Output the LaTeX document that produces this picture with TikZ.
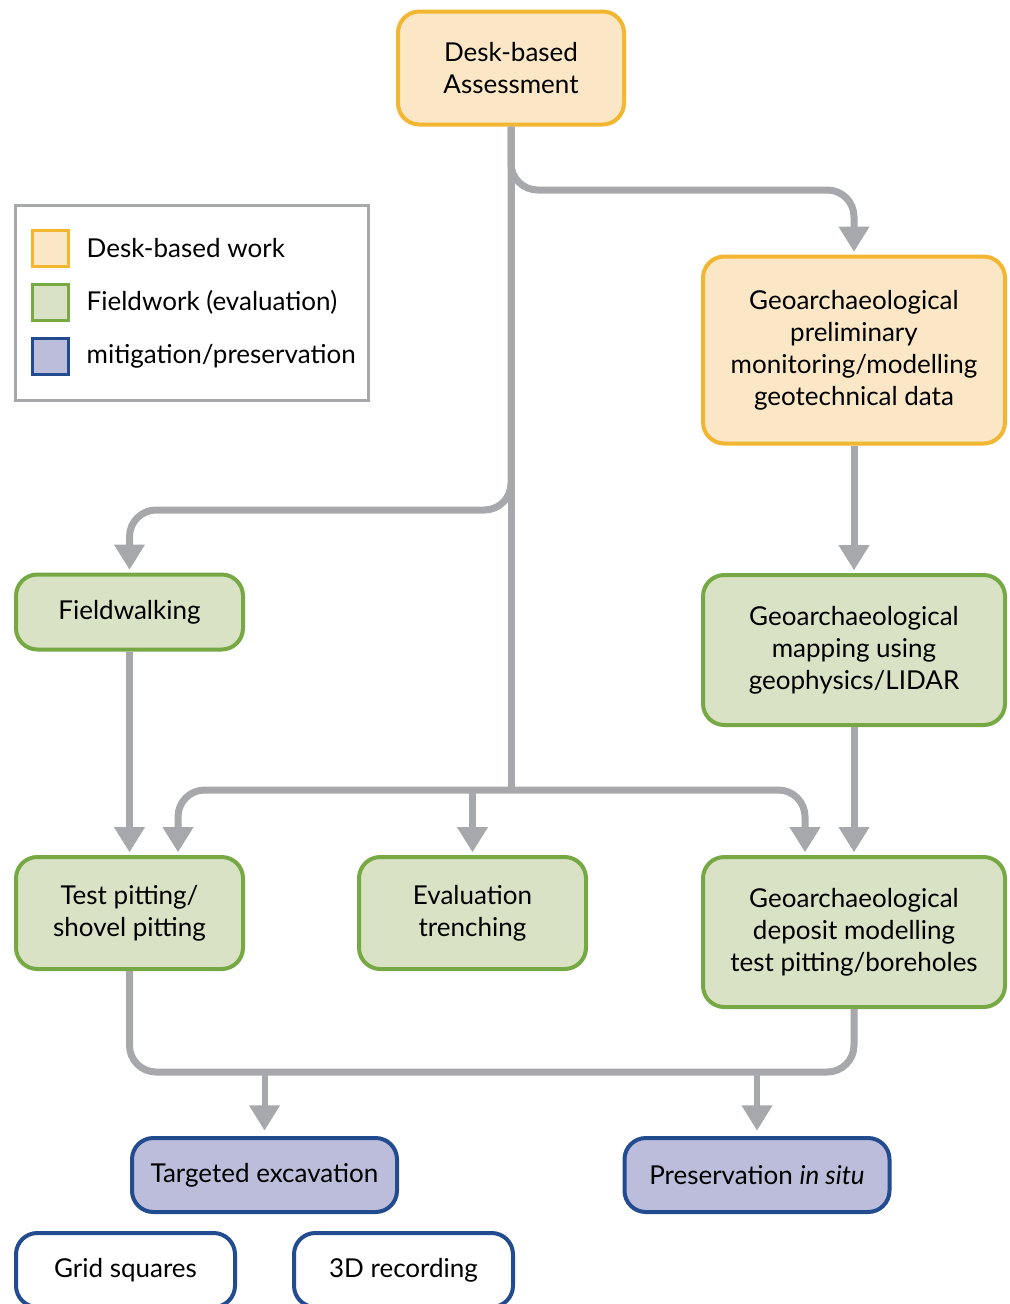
\documentclass[tikz,border=0pt]{standalone}
\usepackage{fontspec}
\setmainfont{Lato}
\usetikzlibrary{arrows.meta,positioning}

\definecolor{deskline}{HTML}{F2B631}
\definecolor{deskfill}{HTML}{FBE7C6}
\definecolor{fieldline}{HTML}{76A844}
\definecolor{fieldfill}{HTML}{D9E2C4}
\definecolor{mitline}{HTML}{234B8F}
\definecolor{mitfill}{HTML}{BBBDDA}
\definecolor{pipegray}{HTML}{A7A8AC}

\begin{document}
\begin{tikzpicture}[x=0.75pt,y=-0.75pt,
  box/.style={rounded corners=16pt, line width=3pt, align=center, inner sep=0pt,
    font=\fontsize{19.5}{24}\selectfont},
  desk/.style={box, draw=deskline, fill=deskfill},
  field/.style={box, draw=fieldline, fill=fieldfill},
  mitig/.style={box, draw=mitline, fill=mitfill},
  record/.style={box, draw=mitline, fill=white},
  swatch/.style={line width=2.25pt, minimum size=27pt, inner sep=0pt},
  keytext/.style={right=9pt of #1, font=\fontsize{19.5}{24}\selectfont},
  pipe/.style={draw=pipegray, line width=5.25pt, rounded corners=20pt},
  flow/.style={pipe, -{Triangle[width=22pt,length=19pt]}, shorten >=2pt},
  drop/.style={pipe, line width=4.5pt, -{Triangle[width=22pt,length=19pt]}, shorten >=4pt},
]
\useasboundingbox (0,0) rectangle (1010,1304);

\node[desk, minimum width=169.5pt, minimum height=84.75pt] (dba) at (511,68)
  {Desk-based\\Assessment};
\node[desk, minimum width=226.5pt, minimum height=140.25pt] (prelim) at (854,350)
  {Geoarchaeological\\preliminary\\monitoring/modelling\\geotechnical data};
\node[field, minimum width=170.25pt, minimum height=56.25pt] (walk) at (129.5,612)
  {Fieldwalking};
\node[field, minimum width=226.5pt, minimum height=112.5pt] (mapping) at (854,650)
  {Geoarchaeological\\mapping using\\geophysics/LIDAR};
\node[field, minimum width=170.25pt, minimum height=84pt] (testpit) at (129.5,913)
  {Test pitting/\\shovel pitting};
\node[field, minimum width=170.25pt, minimum height=84pt] (trench) at (472.5,913)
  {Evaluation\\trenching};
\node[field, minimum width=226.5pt, minimum height=112.5pt] (deposit) at (854,932)
  {Geoarchaeological\\deposit modelling\\test pitting/boreholes};
\node[mitig, minimum width=198.75pt, minimum height=55.5pt] (excav) at (264.5,1175)
  {Targeted excavation};
\node[mitig, minimum width=198.75pt, minimum height=55.5pt] (insitu) at (757,1175)
  {Preservation \textit{in situ}};
\node[record, minimum width=164.25pt, minimum height=55.5pt] (grid) at (125.5,1270)
  {Grid squares};
\node[record, minimum width=164.25pt, minimum height=55.5pt] (threed) at (403.5,1270)
  {3D recording};

% key
\node[draw=pipegray, line width=2.25pt, minimum width=264.75pt, minimum height=146.25pt]
  (key) at (191.5,302.5) {};
\node[swatch, draw=deskline, fill=deskfill] (keydesk) at (50.5,248.5) {};
\node[swatch, draw=fieldline, fill=fieldfill] (keyfield) at (50.5,302.5) {};
\node[swatch, draw=mitline, fill=mitfill] (keymit) at (50.5,356.5) {};
\node[keytext=keydesk] {Desk-based work};
\node[keytext=keyfield] {Fieldwork (evaluation)};
\node[keytext=keymit] {mitigation/preservation};

% connectors
\coordinate (split) at (511,790);
\coordinate (join) at (511,1072);
\draw[pipe] (dba.south) -- (split);
\draw[flow] (dba.south) -- (511,190) -| (prelim.north);
\draw[flow] (dba.south) -- (511,510) -| (walk.north);
\draw[flow] (prelim.south) -- (mapping.north);
\draw[flow] (walk.south) -- (testpit.north);
\draw[flow] (mapping.south) -- (deposit.north);
\draw[flow] (split) -| ([xshift=36.4pt]testpit.north);
\draw[flow] (split) -| ([xshift=-36.75pt]deposit.north);
\draw[flow, sharp corners] (split -| trench.north) -- (trench.north);
\draw[pipe] (testpit.south) |- (join) -| (deposit.south);
\draw[drop, sharp corners] (join -| excav.north) -- (excav.north);
\draw[drop, sharp corners] (join -| insitu.north) -- (insitu.north);
\end{tikzpicture}
\end{document}
